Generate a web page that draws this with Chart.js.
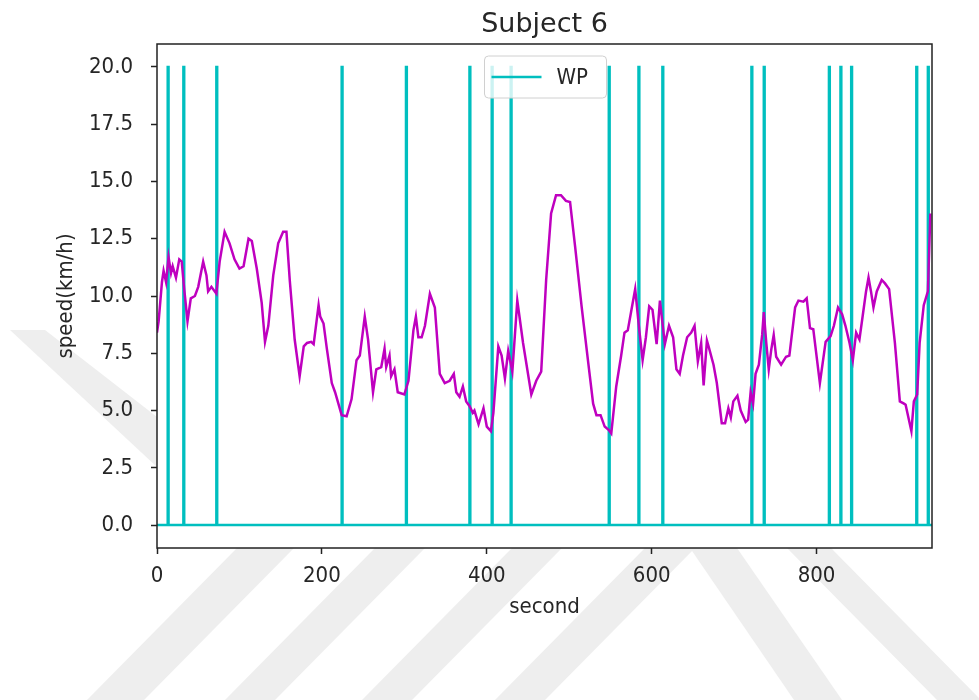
<!DOCTYPE html>
<html>
<head>
<meta charset="utf-8">
<script src="https://cdn.jsdelivr.net/npm/chart.js@4"></script>
<style>
  html, body { margin: 0; padding: 0; background: #fff; }
  canvas { display: block; }
</style>
</head>
<body>
<canvas id="c" width="979" height="700"></canvas>
<script>
// ---- data ----
const chartTitle = "Subject 6";
const xTitle = "second";
const yTitle = "speed(km/h)";
const xTicks = [0, 200, 400, 600, 800];
const yTicks = [0, 2.5, 5, 7.5, 10, 12.5, 15, 17.5, 20];
const xRange = [0, 940];
const yRange = [-1, 21];

// speed trace (magenta): second, km/h
const speedSeconds = [0,2,6,8,11,14,17,19,23,27,30,33,37,41,46,50,56,60,62,66,72,76,82,88,94,100,105,111,115,121,127,131,135,141,147,153,157,161,167,173,178,182,187,190,196,198,202,206,212,216,224,230,236,242,246,252,256,262,266,272,276,278,282,284,288,292,300,305,311,314,317,321,325,331,337,343,349,355,360,363,367,371,375,379,383,385,390,396,400,405,408,414,418,422,426,431,437,444,454,460,466,472,478,484,490,496,501,507,515,523,529,533,538,543,548,551,557,563,567,571,575,580,585,589,593,597,601,606,610,616,621,626,630,634,638,643,648,652,656,660,663,667,669,675,679,685,689,693,696,699,704,708,714,717,720,723,726,730,734,736,739,742,745,748,751,757,763,767,774,778,784,788,792,796,804,811,817,821,826,831,835,840,844,848,852,856,860,863,866,869,873,879,883,888,895,901,906,908,915,918,922,925,930,935,938];
const speedValues = [8.4,8.9,10.6,11.1,10.6,11.7,11.0,11.3,10.8,11.6,11.5,10.3,8.9,9.9,10.0,10.4,11.5,10.9,10.2,10.4,10.1,11.5,12.8,12.3,11.6,11.2,11.3,12.5,12.4,11.2,9.7,8.0,8.7,10.9,12.3,12.8,12.8,10.7,8.1,6.5,7.8,7.95,8.0,7.9,9.6,9.1,8.8,7.7,6.2,5.8,4.8,4.75,5.5,7.2,7.4,9.1,8.1,5.8,6.8,6.9,7.7,6.9,7.4,6.5,6.8,5.8,5.7,6.3,8.5,9.1,8.2,8.2,8.7,10.1,9.5,6.6,6.2,6.3,6.6,5.8,5.6,6.05,5.4,5.2,4.9,5.0,4.4,5.1,4.3,4.1,4.9,7.8,7.4,6.4,7.6,6.7,9.8,7.95,5.7,6.3,6.7,10.7,13.6,14.4,14.4,14.15,14.1,12.2,9.55,7.1,5.3,4.8,4.8,4.3,4.15,4.0,6.05,7.4,8.4,8.5,9.3,10.3,8.5,7.2,8.2,9.55,9.4,7.9,9.8,7.9,8.7,8.2,6.8,6.6,7.4,8.2,8.4,8.7,7.15,7.95,6.1,8.05,7.8,7.0,6.2,4.45,4.45,5.1,4.7,5.4,5.65,5.0,4.5,4.6,5.8,5.3,6.6,7.0,8.3,9.3,7.95,6.8,7.65,8.3,7.35,7.0,7.35,7.4,9.5,9.8,9.75,9.9,8.6,8.55,6.2,8.0,8.25,8.7,9.5,9.2,8.7,7.95,7.2,8.4,8.1,9.15,10.2,10.8,10.2,9.5,10.2,10.7,10.55,10.3,7.95,5.4,5.3,5.25,4.1,5.4,5.7,7.95,9.6,10.2,13.6];

// WP events (cyan): seconds where WP = 20, otherwise 0
const wpLabel = "WP";
const wpEvents = [13, 32, 72, 224, 302, 379, 406, 429, 548, 584, 613, 721, 736, 815, 829, 842, 921, 935];
const wpHigh = 20;
const wpLow = 0;

// ---- build tables for the library ----
const speedData = speedSeconds.map((s, i) => ({ x: s, y: speedValues[i] }));
const wpData = [{ x: xRange[0], y: wpLow }];
wpEvents.forEach(s => {
  wpData.push({ x: s, y: wpLow }, { x: s, y: wpHigh }, { x: s + 1, y: wpHigh }, { x: s + 1, y: wpLow });
});
wpData.push({ x: xRange[1], y: wpLow });

const MAGENTA = '#bf00bf';
const CYAN = '#00bfbf';
const FONT = "'DejaVu Sans Condensed', 'DejaVu Sans', sans-serif";
const TITLE_FONT = "'DejaVu Sans', sans-serif";
const TXT = '#262626';

const bgPlugin = {
  id: 'bg',
  beforeDraw(chart) {
    const { ctx, chartArea: a } = chart;
    ctx.save();
    ctx.fillStyle = '#ffffff';
    ctx.fillRect(0, 0, chart.width, chart.height);
    // faint watermark bands around the axes
    ctx.fillStyle = '#eeeeee';
    const polys = [
      [[10,330],[45,330],[157,417],[157,467]],
      [[237,548],[294,548],[144,700],[87,700]],
      [[375,548],[425,548],[275,700],[225,700]],
      [[512,548],[562,548],[412,700],[362,700]],
      [[645,548],[695,548],[545,700],[495,700]],
      [[690,548],[737,548],[842,700],[794,700]],
      [[787,548],[831,548],[981,700],[937,700]]
    ];
    polys.forEach(p => {
      ctx.beginPath();
      ctx.moveTo(p[0][0], p[0][1]);
      for (let i = 1; i < p.length; i++) ctx.lineTo(p[i][0], p[i][1]);
      ctx.closePath();
      ctx.fill();
    });
    ctx.fillStyle = '#ffffff';
    ctx.fillRect(a.left, a.top, a.right - a.left, a.bottom - a.top);
    // title centred over the axes
    ctx.fillStyle = TXT;
    ctx.font = "27px " + TITLE_FONT;
    ctx.textAlign = 'center';
    ctx.textBaseline = 'alphabetic';
    ctx.fillText(chartTitle, (a.left + a.right) / 2, 32);
    ctx.restore();
  },
  afterDatasetsDraw(chart) {
    const { ctx, chartArea: a } = chart;
    ctx.save();
    // spines
    ctx.strokeStyle = '#222';
    ctx.lineWidth = 1.5;
    ctx.strokeRect(a.left, a.top, a.right - a.left, a.bottom - a.top);
    // legend box (upper center)
    const w = 122, h = 42;
    const cx = (a.left + a.right) / 2;
    const x0 = cx - w / 2 + 1, y0 = a.top + 12;
    ctx.beginPath();
    ctx.roundRect(x0, y0, w, h, 4);
    ctx.fillStyle = 'rgba(255,255,255,0.8)';
    ctx.fill();
    ctx.strokeStyle = '#d0d0d0';
    ctx.lineWidth = 1;
    ctx.stroke();
    ctx.strokeStyle = CYAN;
    ctx.lineWidth = 2.5;
    ctx.beginPath();
    ctx.moveTo(x0 + 7, y0 + h / 2);
    ctx.lineTo(x0 + 57, y0 + h / 2);
    ctx.stroke();
    ctx.fillStyle = TXT;
    ctx.font = "22px " + FONT;
    ctx.textBaseline = 'middle';
    ctx.textAlign = 'left';
    ctx.fillText(chart.data.datasets[1].label, x0 + 72, y0 + h / 2 + 1);
    ctx.restore();
  }
};

new Chart(document.getElementById('c'), {
  type: 'line',
  data: {
    datasets: [
      { label: 'speed', data: speedData, borderColor: MAGENTA, borderWidth: 2.5, pointRadius: 0, tension: 0, fill: false },
      { label: wpLabel, data: wpData, borderColor: CYAN, borderWidth: 2.5, pointRadius: 0, tension: 0, fill: false }
    ]
  },
  options: {
    responsive: false,
    animation: false,
    devicePixelRatio: 1,
    layout: { padding: { left: 0, right: 47, top: 44, bottom: 0 } },
    plugins: {
      legend: { display: false },
      tooltip: { enabled: false },
      title: { display: false }
    },
    scales: {
      x: {
        type: 'linear',
        min: xRange[0],
        max: xRange[1],
        afterBuildTicks: s => { s.ticks = xTicks.map(v => ({ value: v })); },
        afterFit: s => { s.height = 152; },
        ticks: {
          color: TXT,
          font: { family: FONT, size: 22 },
          padding: 9,
          maxRotation: 0,
          callback: v => String(v)
        },
        grid: { drawOnChartArea: false, drawTicks: true, tickLength: 6, tickColor: '#222', tickWidth: 1.5 },
        border: { display: false },
        title: {
          display: true,
          text: xTitle,
          color: TXT,
          font: { family: FONT, size: 22 },
          padding: { top: 0, bottom: 80 }
        }
      },
      y: {
        type: 'linear',
        min: yRange[0],
        max: yRange[1],
        afterBuildTicks: s => { s.ticks = yTicks.map(v => ({ value: v })); },
        afterFit: s => { s.width = 157; },
        ticks: {
          color: TXT,
          font: { family: FONT, size: 22 },
          padding: 18,
          callback: v => Number(v).toFixed(1)
        },
        grid: { drawOnChartArea: false, drawTicks: true, tickLength: 6, tickColor: '#222', tickWidth: 1.5 },
        border: { display: false },
        title: {
          display: true,
          text: yTitle,
          color: TXT,
          font: { family: FONT, size: 22 },
          padding: { top: 53, bottom: 0 }
        }
      }
    }
  },
  plugins: [bgPlugin]
});
</script>
</body>
</html>
